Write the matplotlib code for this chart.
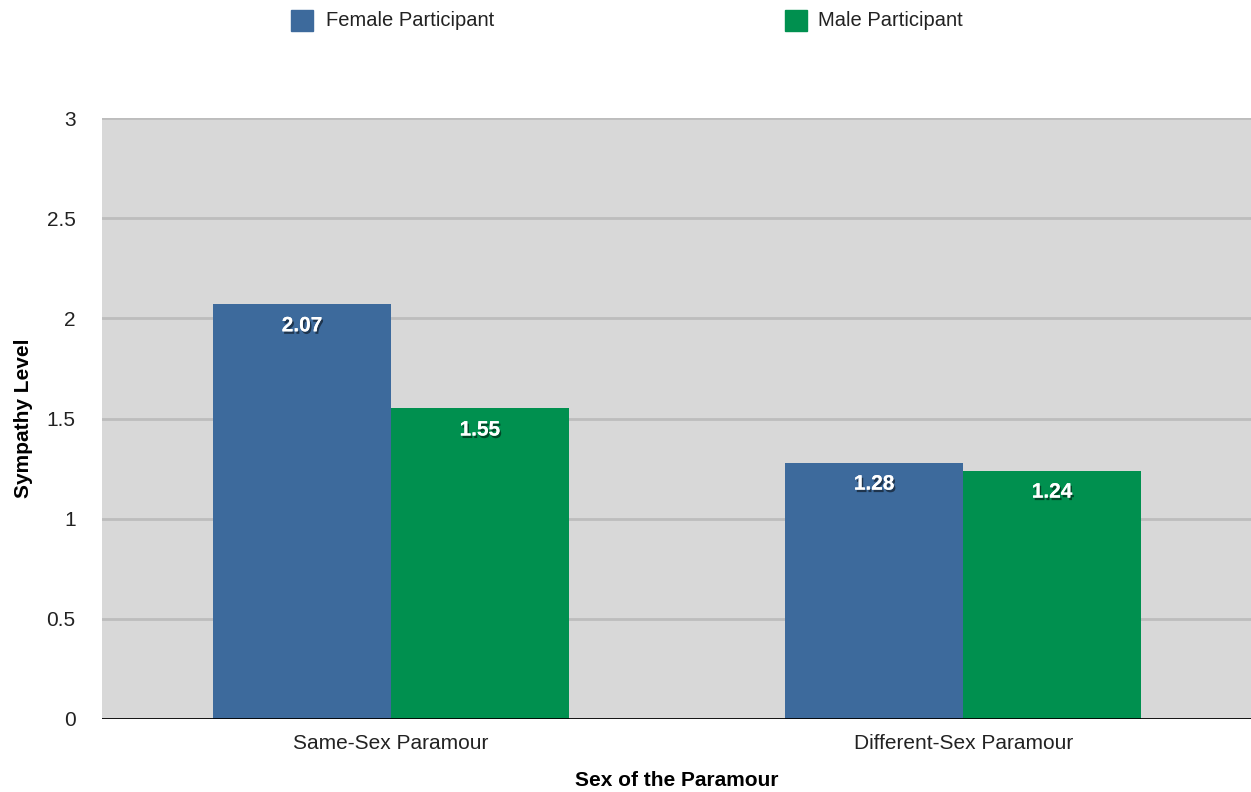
import matplotlib
matplotlib.use("Agg")
import matplotlib.pyplot as plt
import matplotlib.patheffects as pe
import numpy as np

categories = ["Same-Sex Paramour", "Different-Sex Paramour"]
series_names = ["Female Participant", "Male Participant"]
female = [2.07, 1.28]
male = [1.55, 1.24]
colors = ["#3d6a9c", "#00904f"]
yticks = [0, 0.5, 1, 1.5, 2, 2.5, 3]
ytick_labels = ["0", "0.5", "1", "1.5", "2", "2.5", "3"]

plt.rcParams['font.family'] = ['Liberation Sans', 'DejaVu Sans']

fig = plt.figure(figsize=(12.51, 7.92), dpi=100)
ax = fig.add_axes([102/1251, 1-719/792, 1-102/1251, (719-118)/792])
ax.set_facecolor("#d8d8d8")

x = np.arange(len(categories))
w = 0.311
b1 = ax.bar(x - w/2, female, w, color=colors[0], zorder=3, label=series_names[0])
b2 = ax.bar(x + w/2, male, w, color=colors[1], zorder=3, label=series_names[1])

shadow = [pe.withSimplePatchShadow(offset=(1.2, -1.8), shadow_rgbFace='black', alpha=0.5), pe.Normal()]
for bars, vals in ((b1, female), (b2, male)):
    for r, v in zip(bars, vals):
        ax.annotate(f"{v:.2f}", (r.get_x() + r.get_width()/2, v), xytext=(0, -15.5),
                    textcoords="offset points", ha="center", va="center",
                    color="white", fontsize=15, fontweight="bold", zorder=5,
                    path_effects=shadow)

ax.set_xlim(-0.505, 1.503)
ax.set_ylim(0, 3)
ax.set_yticks(yticks)
ax.set_yticklabels(ytick_labels)
ax.set_xticks(x)
ax.set_xticklabels(categories)
for yv in yticks[1:]:
    ax.axhline(yv, color="#bdbdbd", lw=2, zorder=1)
ax.axhline(0, color="black", lw=2, zorder=4)
for s in ax.spines.values():
    s.set_visible(False)
ax.tick_params(axis='both', length=0, labelsize=15, colors="#222222")
ax.tick_params(axis='y', pad=19)
ax.tick_params(axis='x', pad=11)
ax.set_ylabel("Sympathy Level", fontsize=15, fontweight="bold", labelpad=10)
ax.set_xlabel("Sex of the Paramour", fontsize=15, fontweight="bold", labelpad=13)

# legend at top
fig.patches.append(plt.Rectangle((291/1251, 1-31/792), 22/1251, 21/792, transform=fig.transFigure, color=colors[0]))
fig.patches.append(plt.Rectangle((785/1251, 1-31/792), 22/1251, 21/792, transform=fig.transFigure, color=colors[1]))
fig.text(326/1251, 1-21/792, series_names[0], fontsize=14.5, va="center", ha="left", color="#222222")
fig.text(818/1251, 1-21/792, series_names[1], fontsize=14.5, va="center", ha="left", color="#222222")

fig.savefig("out.png", dpi=100)
